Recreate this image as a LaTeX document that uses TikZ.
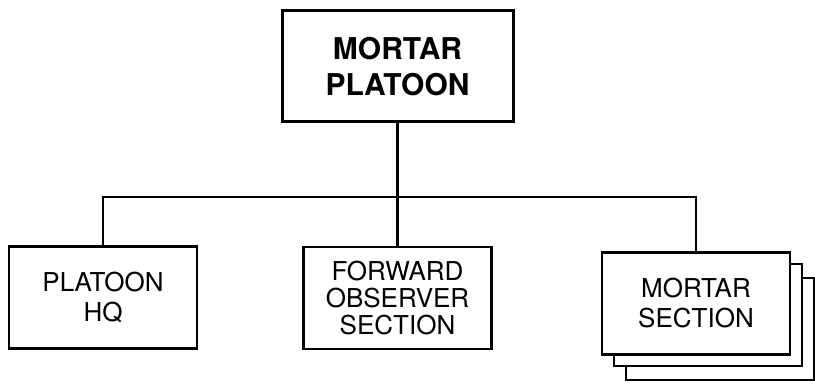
\documentclass[tikz,border=0pt]{standalone}
\usepackage{fontspec}
\setmainfont{TeX Gyre Heros}
\usepackage{tikz}

\begin{document}
\begin{tikzpicture}[x=1pt, y=-1pt,
  unit/.style={draw, line width=2.8pt, fill=white, minimum width=188pt, minimum height=102pt, align=center, inner sep=0pt, font=\fontsize{26}{30}\selectfont},
  topbox/.style={unit, line width=3pt, minimum width=231pt, minimum height=111pt, font=\fontsize{30}{36}\selectfont\bfseries},
  link/.style={line width=2.6pt}]
\useasboundingbox (0,0) rectangle (815,390);
\node[topbox] (plt) at (397.5,66.5) {MORTAR\\PLATOON};
\node[unit] (hqs) at (103,297.5) {PLATOON\\HQ};
\node[unit, font=\fontsize{26}{27}\selectfont] (fos) at (397.5,298) {FORWARD\\OBSERVER\\SECTION};
\node[unit] (ms3) at (720,329) {};
\node[unit] (ms2) at (708,315) {};
\node[unit] (ms1) at (696,303.5) {MORTAR\\SECTION};
\coordinate (bus) at (397.5,197);
\draw[link] (plt.south) -- (fos.north);
\draw[link] (hqs.north) |- (bus) -| (ms1.north);
\end{tikzpicture}
\end{document}
